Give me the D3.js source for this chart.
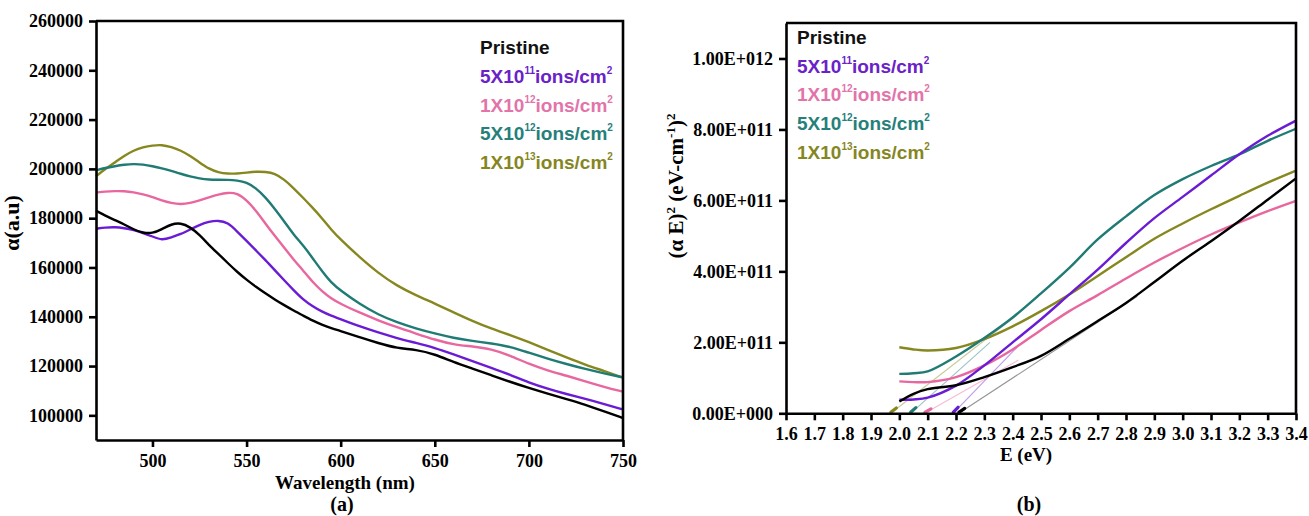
<!DOCTYPE html>
<html><head><meta charset="utf-8">
<script src="https://cdn.jsdelivr.net/npm/d3@7"></script>
<style>
body{margin:0;background:#fff;}
svg{display:block;}
</style></head><body>
<svg id="c" width="1309" height="516"></svg>
<script>
// ---------- DATA ----------
const seriesNames = ["Pristine", "5X10^11 ions/cm^2", "1X10^12 ions/cm^2", "5X10^12 ions/cm^2", "1X10^13 ions/cm^2"];
const legendBase = ["Pristine", "5X10", "1X10", "5X10", "1X10"];
const legendExp = ["", "11", "12", "12", "13"];
const lineColors = ["#000000", "#6a1bd4", "#e8679f", "#1f7b74", "#878720"];
const textColors = ["#111111", "#6a22c8", "#e274aa", "#26807a", "#86861f"];

// panel (a): absorption coefficient vs wavelength
const wavelength = [470,475,480,485,490,495,500,505,510,515,520,525,530,535,540,545,550,555,560,565,570,575,580,585,590,595,600,
                    610,620,630,640,650,660,670,680,690,700,710,720,730,740,750];
const alphaPristine = [183000,181000,179200,177500,175400,174000,173800,175500,177600,178100,176400,173300,169100,165500,161800,158200,155000,152100,149500,147000,144700,142500,140500,138500,136800,135400,134200,
                       131700,129300,127200,126700,124800,121600,119000,116300,113600,111100,108800,106600,104300,101600,98900];
const alpha5e11 = [175700,176200,176400,176000,175200,174000,172600,171000,172200,173500,175400,177300,178600,179100,178300,174600,170800,166900,163000,158900,154800,150800,147000,144300,142100,140400,139000,
                   136100,133600,131300,129400,127400,124700,122000,119300,116500,113300,110800,108600,106700,104600,102400];
const alpha1e12 = [190400,190800,191000,191000,190500,189700,188600,187100,186100,185600,186100,187200,188400,189600,190400,190200,187300,183100,177800,172800,168000,163200,158800,154200,150400,147400,145200,
                   141700,138500,135700,133200,130700,128700,128000,126900,124300,120800,118200,116100,113800,111500,109600];
const alpha5e12 = [199400,200400,201100,201700,202000,201800,201100,200200,199200,198000,196900,196100,195600,195600,195600,195300,194600,192200,188500,183800,178700,173300,169000,163900,158600,153800,150600,
                   145200,140800,137700,135200,133200,131400,130200,129200,127900,125400,123000,120800,118800,117000,115400];
const alpha1e13 = [197000,200000,202600,205300,207500,208800,209500,209800,208900,207500,205300,202600,200000,198500,198000,198100,198500,198900,198800,198200,195700,192200,188300,184300,180100,175300,171300,
                   164200,157700,152500,148700,145400,141800,138300,135200,132600,129700,126600,123500,120500,118000,115300];
const alphaTicks = [100000,120000,140000,160000,180000,200000,220000,240000,260000];
const wavelengthTicks = [500,550,600,650,700,750];

// panel (b): Tauc plot (alpha E)^2 vs E
const energy = [2.0,2.05,2.1,2.2,2.3,2.4,2.5,2.6,2.7,2.8,2.9,3.0,3.1,3.2,3.3,3.4];
const taucPristine = [0.33e11,0.55e11,0.68e11,0.79e11,1.02e11,1.30e11,1.62e11,2.10e11,2.60e11,3.11e11,3.70e11,4.30e11,4.85e11,5.42e11,6.02e11,6.62e11];
const tauc5e11 = [0.38e11,0.39e11,0.44e11,0.78e11,1.35e11,2.00e11,2.65e11,3.35e11,4.05e11,4.80e11,5.50e11,6.10e11,6.70e11,7.30e11,7.82e11,8.25e11];
const tauc1e12 = [0.90e11,0.88e11,0.88e11,1.02e11,1.35e11,1.80e11,2.35e11,2.88e11,3.33e11,3.80e11,4.25e11,4.66e11,5.04e11,5.38e11,5.70e11,5.99e11];
const tauc5e12 = [1.11e11,1.13e11,1.18e11,1.60e11,2.12e11,2.70e11,3.38e11,4.10e11,4.90e11,5.55e11,6.15e11,6.60e11,6.97e11,7.30e11,7.68e11,8.02e11];
const tauc1e13 = [1.86e11,1.80e11,1.77e11,1.84e11,2.09e11,2.45e11,2.88e11,3.35e11,3.87e11,4.40e11,4.92e11,5.35e11,5.75e11,6.13e11,6.50e11,6.84e11];
// band-gap extrapolation lines: x-intercept and upper end point
const tangentE0 = [2.21, 2.19, 2.09, 2.04, 1.97];
const tangentE1 = [2.84, 2.42, 2.42, 2.32, 2.42];
const tangentV1 = [3.3e11, 1.9e11, 1.5e11, 2.0e11, 2.8e11];
const taucTicks = [0, 2e11, 4e11, 6e11, 8e11, 1e12];
const taucTickLabels = ["0.00E+000","2.00E+011","4.00E+011","6.00E+011","8.00E+011","1.00E+012"];
const energyTicks = [1.6,1.7,1.8,1.9,2.0,2.1,2.2,2.3,2.4,2.5,2.6,2.7,2.8,2.9,3.0,3.1,3.2,3.3,3.4];

// ---------- DRAW ----------
const svg = d3.select("#c");
const serif = '"Liberation Serif","Times New Roman",serif';
const sans = '"Liberation Sans",Arial,sans-serif';
const AXW = 2.6;

function styleAxis(g, fs) {
  g.select(".domain").attr("stroke", "#000").attr("stroke-width", AXW);
  g.selectAll(".tick line").attr("stroke", "#000").attr("stroke-width", AXW);
  g.selectAll(".tick text").attr("fill", "#000")
    .style("font-family", serif).style("font-weight", "bold").style("font-size", fs + "px");
}

function legend(x, y0, step) {
  const g = svg.append("g");
  legendBase.forEach((b, i) => {
    const t = g.append("text").attr("x", x).attr("y", y0 + i * step)
      .attr("fill", textColors[i])
      .style("font-family", sans).style("font-weight", "bold").style("font-size", "19px");
    t.append("tspan").text(b);
    if (legendExp[i]) {
      t.append("tspan").attr("dy", -9).style("font-size", "10px").text(legendExp[i]);
      t.append("tspan").attr("dy", 9).text("ions/cm");
      t.append("tspan").attr("dy", -9).style("font-size", "10px").text("2");
    }
  });
}

// ---- panel (a)
const xA = d3.scaleLinear().domain([470, 750]).range([96, 623]);
const yA = d3.scaleLinear().domain([90000, 260000]).range([440, 21]);
const seriesA = [alphaPristine, alpha5e11, alpha1e12, alpha5e12, alpha1e13];

const lineA = d3.line().x((d, i) => xA(wavelength[i])).y(d => yA(d)).curve(d3.curveBasis);
[4, 3, 2, 1, 0].forEach(k => {
  svg.append("path").datum(seriesA[k]).attr("d", lineA)
    .attr("fill", "none").attr("stroke", lineColors[k]).attr("stroke-width", 2.4)
    .attr("stroke-linejoin", "round");
});

svg.append("path").attr("d", `M${xA(470)},${yA(260000)}H${xA(750)}V${yA(90000)}`)
  .attr("fill", "none").attr("stroke", "#000").attr("stroke-width", AXW);
const axLA = svg.append("g").attr("transform", `translate(${xA(470)},0)`)
  .call(d3.axisLeft(yA).tickValues(alphaTicks).tickFormat(d3.format("d")).tickSize(7).tickSizeOuter(0).tickPadding(6));
styleAxis(axLA, 18);
const axBA = svg.append("g").attr("transform", `translate(0,${yA(90000)})`)
  .call(d3.axisBottom(xA).tickValues(wavelengthTicks).tickFormat(d3.format("d")).tickSize(7).tickSizeOuter(0).tickPadding(7));
styleAxis(axBA, 18);

svg.append("text").attr("x", 345).attr("y", 488.5).attr("text-anchor", "middle")
  .style("font-family", serif).style("font-weight", "bold").style("font-size", "19px").text("Wavelength (nm)");
svg.append("text").attr("transform", "translate(19,223) rotate(-90)").attr("text-anchor", "middle")
  .style("font-family", serif).style("font-weight", "bold").style("font-size", "22px").text("α(a.u)");
svg.append("text").attr("x", 342).attr("y", 511).attr("text-anchor", "middle")
  .style("font-family", serif).style("font-weight", "bold").style("font-size", "20px").text("(a)");
legend(480, 54, 28.8);

// ---- panel (b)
const xB = d3.scaleLinear().domain([1.6, 3.4]).range([786, 1296]);
const yB = d3.scaleLinear().domain([0, 1.1e12]).range([413.3, 23]);
const seriesB = [taucPristine, tauc5e11, tauc1e12, tauc5e12, tauc1e13];

// extrapolation lines
seriesB.forEach((s, k) => {
  const x0 = xB(tangentE0[k]), y0 = yB(0), x1 = xB(tangentE1[k]), y1 = yB(tangentV1[k]);
  svg.append("line").attr("x1", x0).attr("y1", y0).attr("x2", x1).attr("y2", y1)
    .attr("stroke", k === 0 ? "#8a8a8a" : lineColors[k]).attr("stroke-opacity", k === 0 ? 0.9 : 0.45)
    .attr("stroke-width", 1.1);
  const len = Math.hypot(x1 - x0, y1 - y0), ux = (x1 - x0) / len, uy = (y1 - y0) / len;
  svg.append("line").attr("x1", x0).attr("y1", y0 - 1).attr("x2", x0 + ux * 7).attr("y2", y0 - 1 + uy * 7)
    .attr("stroke", lineColors[k]).attr("stroke-width", 3.2).attr("stroke-linecap", "round");
});

const lineB = d3.line().x((d, i) => xB(energy[i])).y(d => yB(d)).curve(d3.curveCatmullRom.alpha(0.5));
[4, 3, 2, 1, 0].forEach(k => {
  svg.append("path").datum(seriesB[k]).attr("d", lineB)
    .attr("fill", "none").attr("stroke", lineColors[k]).attr("stroke-width", 2.4)
    .attr("stroke-linejoin", "round");
});

svg.append("path").attr("d", `M${xB(1.6)},${yB(1.1e12)}H${xB(3.4)}V${yB(0)}`)
  .attr("fill", "none").attr("stroke", "#000").attr("stroke-width", AXW);
const axLB = svg.append("g").attr("transform", `translate(${xB(1.6)},0)`)
  .call(d3.axisLeft(yB).tickValues(taucTicks).tickFormat((d, i) => taucTickLabels[i]).tickSize(7).tickSizeOuter(0).tickPadding(6));
styleAxis(axLB, 18);
const axBB = svg.append("g").attr("transform", `translate(0,${yB(0)})`)
  .call(d3.axisBottom(xB).tickValues(energyTicks).tickFormat(d3.format(".1f")).tickSize(7).tickSizeOuter(0).tickPadding(7));
styleAxis(axBB, 18);

svg.append("text").attr("x", 1026).attr("y", 461).attr("text-anchor", "middle")
  .style("font-family", serif).style("font-weight", "bold").style("font-size", "19px").text("E (eV)");
const yt = svg.append("text").attr("transform", "translate(683,186) rotate(-90)").attr("text-anchor", "middle")
  .style("font-family", serif).style("font-weight", "bold").style("font-size", "21px");
yt.append("tspan").text("(α E)");
yt.append("tspan").attr("dy", -8).style("font-size", "13px").text("2");
yt.append("tspan").attr("dy", 8).text("  (eV-cm");
yt.append("tspan").attr("dy", -8).style("font-size", "13px").text("-1");
yt.append("tspan").attr("dy", 8).text(")");
yt.append("tspan").attr("dy", -8).style("font-size", "13px").text("2");
svg.append("text").attr("x", 1029).attr("y", 511).attr("text-anchor", "middle")
  .style("font-family", serif).style("font-weight", "bold").style("font-size", "20px").text("(b)");
legend(797, 44, 28.7);
</script>
</body></html>
